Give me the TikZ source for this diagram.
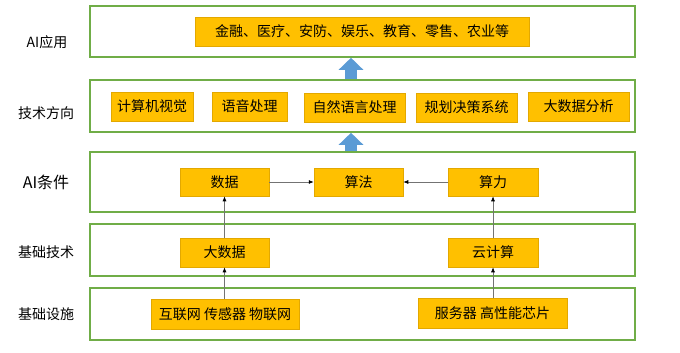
\documentclass[tikz,border=0pt]{standalone}
\usepackage{fontspec}
\setmainfont{Noto Sans CJK SC}
\usetikzlibrary{arrows.meta}
\definecolor{layergreen}{HTML}{70AD47}
\definecolor{boxorange}{HTML}{FFC000}
\definecolor{boxedge}{HTML}{E3A800}
\definecolor{arrowblue}{HTML}{5B9BD5}

\begin{document}
\begin{tikzpicture}[x=1pt, y=-1pt,
    every node/.style={font=\fontsize{14}{16}\selectfont, inner sep=0pt},
    layer/.style={draw=layergreen, line width=1.6pt, minimum width=545pt, minimum height=#1},
    item/.style={fill=boxorange, draw=boxedge, line width=0.5pt, minimum width=#1, minimum height=29pt},
    link/.style={draw=black!55, line width=0.7pt, -{Latex[length=5pt, width=4pt, black]}},
    bigarrow/.style={draw=arrowblue, line width=12pt, -{Triangle[length=12pt, width=24pt]}}]
  \useasboundingbox (0,0) rectangle (680,353);
  \node[layer=51pt] (app) at (362.5,31.5) {};
  \node[layer=52pt] (tech) at (362.5,106) {};
  \node[layer=60pt] (cond) at (362.5,182) {};
  \node[layer=52pt] (base) at (362.5,250) {};
  \node[layer=52pt] (infra) at (362.5,314) {};
  \node (appl) at (47,42) {AI应用};
  \node (techl) at (46,113) {技术方向};
  \node[font=\fontsize{16}{18}\selectfont] (condl) at (46,182) {AI条件};
  \node (basel) at (46,252) {基础技术};
  \node (infral) at (46,314) {基础设施};
  \node[item=334pt] (fields) at (362,31.5) {金融、医疗、安防、娱乐、教育、零售、农业等};
  \node[item=82pt] (cv) at (152,106.5) {计算机视觉};
  \node[item=75pt] (speech) at (249.5,106.5) {语音处理};
  \node[item=101pt] (nlp) at (354.5,107.5) {自然语言处理};
  \node[item=101pt] (plan) at (466.5,107.5) {规划决策系统};
  \node[item=101pt] (analysis) at (578.5,106.5) {大数据分析};
  \node[item=89pt, minimum height=28pt] (data) at (224.5,182) {数据};
  \node[item=89pt, minimum height=28pt] (algo) at (358.5,182) {算法};
  \node[item=90pt, minimum height=28pt] (power) at (493,182) {算力};
  \node[item=89pt] (bigdata) at (224.5,252.5) {大数据};
  \node[item=90pt] (cloud) at (493,252.5) {云计算};
  \node[item=148pt, minimum height=30pt] (iot) at (225,314) {互联网 传感器 物联网};
  \node[item=149pt, minimum height=30pt] (server) at (492.5,313) {服务器 高性能芯片};
  \coordinate (up) at (351,0);
  \draw[bigarrow] (tech.north -| up) -- (app.south -| up);
  \draw[bigarrow] (cond.north -| up) -- (tech.south -| up);
  \draw[link] (data) -- (algo);
  \draw[link] (power) -- (algo);
  \draw[link] (bigdata) -- (data);
  \draw[link] (iot.north -| bigdata) -- (bigdata);
  \draw[link] (cloud) -- (power);
  \draw[link] (server.north -| cloud) -- (cloud);
\end{tikzpicture}
\end{document}
